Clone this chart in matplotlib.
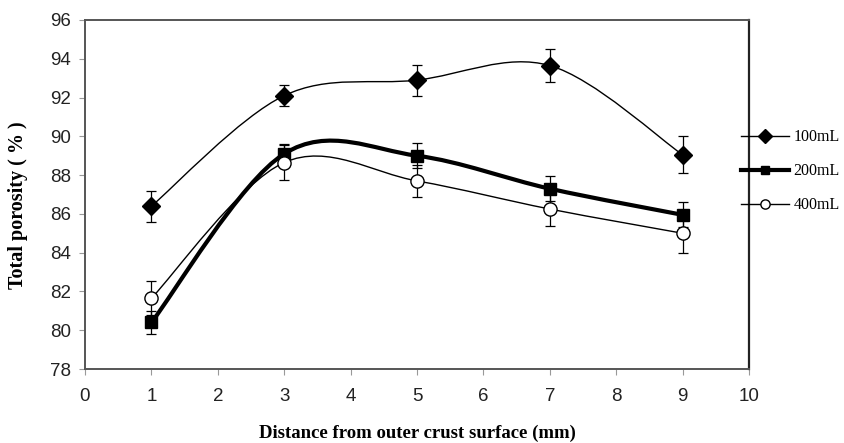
import numpy as np
import matplotlib
matplotlib.use("Agg")
import matplotlib.pyplot as plt
from matplotlib.path import Path
from matplotlib.patches import PathPatch
from matplotlib.lines import Line2D

# Porosity measured at increasing depth below the outer crust
distance = [1, 3, 5, 7, 9]
labels = ["100mL", "200mL", "400mL"]
porosity_100 = [86.4, 92.1, 92.9, 93.65, 89.05]
porosity_200 = [80.4, 89.1, 89.0, 87.3, 85.95]
porosity_400 = [81.65, 88.65, 87.7, 86.25, 85.0]
err_100 = [0.8, 0.55, 0.8, 0.85, 0.95]
err_200 = [0.6, 0.5, 0.65, 0.65, 0.65]
err_400 = [0.88, 0.9, 0.82, 0.9, 1.0]

x_ticks = list(range(0, 11))
y_ticks = list(range(78, 97, 2))

fig = plt.figure(figsize=(8.44, 4.43), dpi=100)
ax = fig.add_axes([85 / 844, (443 - 369) / 443, (749 - 85) / 844, (369 - 20) / 443])


def smooth_path(xs, ys, trans):
    """Catmull-Rom style Bezier through the points (spreadsheet smoothing)."""
    pts = np.column_stack([xs, ys]).astype(float)
    pts = trans.transform(pts)
    n = len(pts)
    verts = [pts[0]]
    codes = [Path.MOVETO]
    for i in range(n - 1):
        p0 = pts[i - 1] if i > 0 else pts[i]
        p1 = pts[i]
        p2 = pts[i + 1]
        p3 = pts[i + 2] if i + 2 < n else pts[i + 1]
        c1 = p1 + (p2 - p0) / 6.0
        c2 = p2 - (p3 - p1) / 6.0
        verts += [c1, c2, p2]
        codes += [Path.CURVE4] * 3
    return Path(verts, codes)


series = [
    (porosity_100, err_100, "D", "black", 1.0, 9.5),
    (porosity_200, err_200, "s", "black", 3.0, 8.5),
    (porosity_400, err_400, "o", "white", 1.0, 9.5),
]

ax.set_xlim(0, 10)
ax.set_ylim(78, 96)

handles = []
for (vals, errs, mk, fc, lw, ms), lab in zip(series, labels):
    ax.errorbar(distance, vals, yerr=errs, fmt="none", ecolor="black",
                elinewidth=0.9, capsize=3.5, capthick=0.9, zorder=2)
    # curve drawn in display space so that smoothing follows screen geometry
    fig.canvas.draw()
    path = smooth_path(distance, vals, ax.transData)
    patch = PathPatch(path, facecolor="none", edgecolor="black", lw=lw,
                      transform=None, zorder=3)
    patch.set_clip_path(ax.patch)
    ax.add_artist(patch)
    ax.plot(distance, vals, linestyle="none", marker=mk, markersize=ms,
            markerfacecolor=fc, markeredgecolor="black", markeredgewidth=1.0,
            zorder=4)
    handles.append(Line2D([], [], color="black", lw=lw, marker=mk,
                          markersize=ms * 0.7, markerfacecolor=fc,
                          markeredgecolor="black", markeredgewidth=1.0))

ax.set_xticks(x_ticks)
ax.set_yticks(y_ticks)
ax.tick_params(axis="both", direction="out", length=4, width=0.8,
               color="#999999", labelsize=13.5, pad=6)
for lbl in ax.get_xticklabels() + ax.get_yticklabels():
    lbl.set_family("Liberation Sans")
    lbl.set_color("#222222")
ax.tick_params(axis="x", pad=10)

for side in ["left", "bottom", "top"]:
    ax.spines[side].set_color("#555555")
    ax.spines[side].set_linewidth(1.4)
ax.spines["right"].set_color("#222222")
ax.spines["right"].set_linewidth(1.6)

ax.set_ylabel("Total porosity ( % )", family="Liberation Serif",
              fontweight="bold", fontsize=14.5)
ax.yaxis.set_label_coords(-0.086, 0.47)
ax.set_xlabel("Distance from outer crust surface (mm)", family="Liberation Serif",
              fontweight="bold", fontsize=13.5, labelpad=14)

leg = fig.legend(handles, labels, loc="upper left",
                 bbox_to_anchor=(735 / 844, 1 - 123 / 443), frameon=False,
                 prop={"family": "Liberation Serif", "size": 11.5},
                 handlelength=3.0, handletextpad=0.25, labelspacing=1.12,
                 borderaxespad=0)

fig.savefig("out.png", dpi=100)
